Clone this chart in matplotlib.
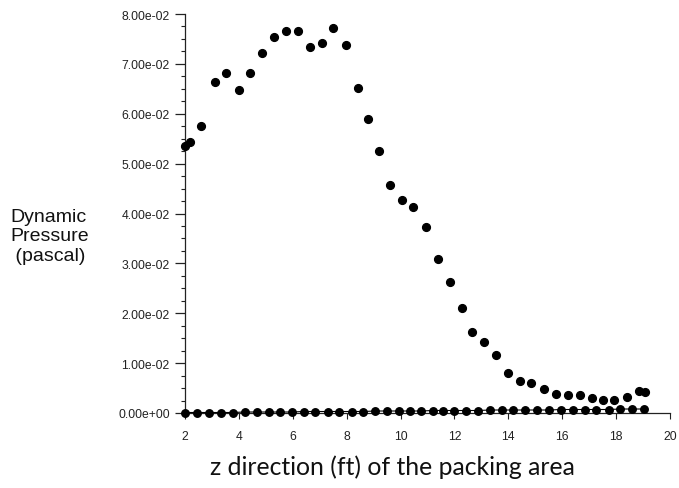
import matplotlib
matplotlib.use("Agg")
import matplotlib.pyplot as plt
from matplotlib.ticker import MultipleLocator, FuncFormatter

# Upper series (dynamic pressure)
z_upper = [2.0, 2.17, 2.61, 3.11, 3.54, 3.99, 4.41, 4.87, 5.31, 5.73, 6.18, 6.63,
           7.07, 7.51, 7.96, 8.42, 8.78, 9.21, 9.62, 10.06, 10.47, 10.96, 11.39,
           11.83, 12.29, 12.67, 13.09, 13.53, 13.98, 14.43, 14.85, 15.31, 15.77,
           16.20, 16.65, 17.10, 17.52, 17.94, 18.39, 18.84, 19.06]
p_upper = [0.0535, 0.0544, 0.0576, 0.0664, 0.0682, 0.0648, 0.0682, 0.0722, 0.0754,
           0.0766, 0.0766, 0.0734, 0.0741, 0.0771, 0.0737, 0.0652, 0.0590, 0.0525,
           0.0458, 0.0427, 0.0413, 0.0372, 0.0308, 0.0262, 0.0210, 0.0162, 0.0142,
           0.0117, 0.0080, 0.0064, 0.0060, 0.0048, 0.0039, 0.0037, 0.0036, 0.0031,
           0.0026, 0.0027, 0.0032, 0.0045, 0.0043]

# Lower series (near zero)
z_lower = [1.99, 2.46, 2.90, 3.33, 3.77, 4.21, 4.66, 5.10, 5.53, 5.97, 6.40, 6.84,
           7.29, 7.73, 8.18, 8.62, 9.06, 9.51, 9.95, 10.36, 10.77, 11.19, 11.58,
           12.00, 12.44, 12.87, 13.32, 13.75, 14.19, 14.62, 15.07, 15.52, 15.96,
           16.39, 16.84, 17.27, 17.72, 18.16, 18.60, 19.04]
p_lower = [0.0001, 0.0001, 0.0001, 0.0001, 0.0001, 0.0002, 0.0002, 0.0002, 0.0002,
           0.0002, 0.0003, 0.0003, 0.0003, 0.0003, 0.0003, 0.0003, 0.0004, 0.0004,
           0.0004, 0.0004, 0.0004, 0.0005, 0.0005, 0.0005, 0.0005, 0.0005, 0.0006,
           0.0006, 0.0006, 0.0006, 0.0006, 0.0006, 0.0007, 0.0007, 0.0007, 0.0007,
           0.0007, 0.0008, 0.0008, 0.0008]

x_ticks = [2, 4, 6, 8, 10, 12, 14, 16, 18, 20]
y_ticks = [0.00, 0.01, 0.02, 0.03, 0.04, 0.05, 0.06, 0.07, 0.08]

fig = plt.figure(figsize=(6.79, 4.89), dpi=100)
ax = fig.add_axes([185 / 679, 1 - 414 / 489, (670 - 185) / 679, (414 - 15) / 489])

ax.plot(z_lower, p_lower, '-', color='black', lw=0.8, marker='o', ms=5.4,
        clip_on=False, zorder=3)
ax.plot(z_upper, p_upper, 'o', color='black', ms=5.6, clip_on=False, zorder=4)

ax.set_xlim(2, 20)
ax.set_ylim(0, 0.08)
ax.set_xticks(x_ticks)
ax.set_yticks(y_ticks)
ax.yaxis.set_minor_locator(MultipleLocator(0.0025))
ax.yaxis.set_major_formatter(FuncFormatter(lambda v, p: f"{v:.2e}"))

for s in ['top', 'right']:
    ax.spines[s].set_visible(False)
for s in ['left', 'bottom']:
    ax.spines[s].set_linewidth(0.9)
    ax.spines[s].set_color('#222222')

ax.tick_params(axis='y', which='major', direction='out', length=7, width=0.9,
               labelsize=8.7, pad=4, colors='#222222')
ax.tick_params(axis='y', which='minor', direction='out', length=3, width=0.8,
               colors='#222222')
ax.tick_params(axis='x', which='major', direction='out', length=4, width=0.8,
               labelsize=8.7, pad=8, colors='#222222')
for lab in ax.get_xticklabels() + ax.get_yticklabels():
    lab.set_fontfamily('Liberation Sans')

fig.text(10 / 679, 1 - 237 / 489, "Dynamic\nPressure\n (pascal)", ha='left', va='center',
         fontsize=14, family='Liberation Sans', linespacing=1.2, color='#111111')

fig.text(392 / 679, 1 - 467 / 489, "z direction (ft) of the packing area", ha='center',
         va='center', fontsize=17.8, family='Lato', color='#111111')

fig.savefig("out.png", dpi=100)
